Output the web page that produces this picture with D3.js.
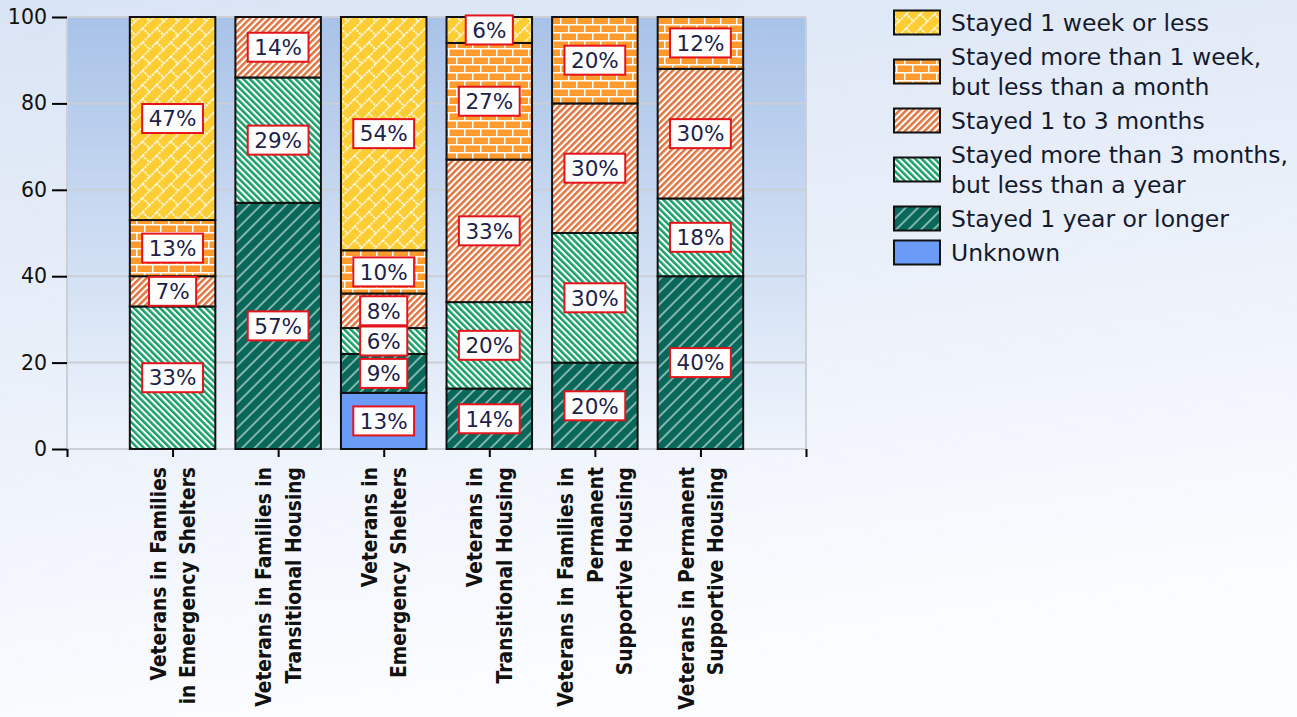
<!DOCTYPE html>
<html>
<head>
<meta charset="utf-8">
<script src="https://cdn.jsdelivr.net/npm/d3@7"></script>
<style>
html, body { margin: 0; padding: 0; overflow: hidden; }
svg { display: block; }
</style>
</head>
<body>
<svg id="chart" width="1297" height="717"></svg>
<script>
// categories (one bar each), split in lines as on the axis
var categories = [
    ["Veterans in Families", "in Emergency Shelters"],
    ["Veterans in Families in", "Transitional Housing"],
    ["Veterans in", "Emergency Shelters"],
    ["Veterans in", "Transitional Housing"],
    ["Veterans in Families in", "Permanent", "Supportive Housing"],
    ["Veterans in Permanent", "Supportive Housing"]
];

// percentages per length of stay, stacked bottom -> top
var unknown       = [0, 0, 13, 0, 0, 0];
var oneYear       = [0, 57, 9, 14, 20, 40];
var threeToYear   = [33, 29, 6, 20, 30, 18];
var oneToThree    = [7, 14, 8, 33, 30, 30];
var weekToMonth   = [13, 0, 10, 27, 20, 12];
var weekOrLess    = [47, 0, 54, 6, 0, 0];

var seriesKeys = ["unknown", "oneYear", "threeToYear", "oneToThree", "weekToMonth", "weekOrLess"];
var seriesValues = [unknown, oneYear, threeToYear, oneToThree, weekToMonth, weekOrLess];

// legend, top -> bottom
var legendKeys = ["weekOrLess", "weekToMonth", "oneToThree", "threeToYear", "oneYear", "unknown"];
var legendLabels = [
    ["Stayed 1 week or less"],
    ["Stayed more than 1 week,", "but less than a month"],
    ["Stayed 1 to 3 months"],
    ["Stayed more than 3 months,", "but less than a year"],
    ["Stayed 1 year or longer"],
    ["Unknown"]
];

var yTicks = [0, 20, 40, 60, 80, 100];

var svg = d3.select("#chart");
var defs = svg.append("defs");

// backgrounds
var bgGrad = defs.append("linearGradient").attr("id", "pageBg")
    .attr("x1", 0).attr("y1", 0).attr("x2", 0.25).attr("y2", 1);
bgGrad.append("stop").attr("offset", 0).attr("stop-color", "#d9e4f4");
bgGrad.append("stop").attr("offset", 1).attr("stop-color", "#fbfcff");

var plotGrad = defs.append("linearGradient").attr("id", "plotBg")
    .attr("x1", 0).attr("y1", 0).attr("x2", 0).attr("y2", 1);
plotGrad.append("stop").attr("offset", 0).attr("stop-color", "#a8c2e8");
plotGrad.append("stop").attr("offset", 1).attr("stop-color", "#f0f5fc");

// hatch patterns
function pattern(id, w, h, rot) {
    var p = defs.append("pattern").attr("id", id)
        .attr("patternUnits", "userSpaceOnUse")
        .attr("width", w).attr("height", h);
    if (rot) p.attr("patternTransform", "rotate(" + rot + ")");
    return p;
}

var pw = pattern("p-weekOrLess", 20, 20, -45);
pw.append("rect").attr("width", 20).attr("height", 20).attr("fill", "#fdcd33");
pw.append("path").attr("d", "M0,0.75H20M0,10.75H20M0.75,0V10M10.75,10V20")
    .attr("stroke", "#fff").attr("stroke-width", 1.5).attr("stroke-dasharray", "2.5 1")
    .attr("fill", "none");

var pm = pattern("p-weekToMonth", 16, 16, 0);
pm.append("rect").attr("width", 16).attr("height", 16).attr("fill", "#ff9a2e");
pm.append("path").attr("d", "M0,0.75H16M0,8.75H16M0.75,0V8M8.75,8V16")
    .attr("stroke", "#fff").attr("stroke-width", 1.5).attr("fill", "none");

var p13 = pattern("p-oneToThree", 4.6, 4.6, 45);
p13.append("rect").attr("width", 4.6).attr("height", 4.6).attr("fill", "#fff");
p13.append("rect").attr("width", 2.5).attr("height", 4.6).attr("fill", "#e0743f");

var p3y = pattern("p-threeToYear", 4.6, 4.6, -45);
p3y.append("rect").attr("width", 4.6).attr("height", 4.6).attr("fill", "#fff");
p3y.append("rect").attr("width", 2.5).attr("height", 4.6).attr("fill", "#16a067");

var p1y = pattern("p-oneYear", 8.8, 8.8, 45);
p1y.append("rect").attr("width", 8.8).attr("height", 8.8).attr("fill", "#0a685b");
p1y.append("line").attr("x1", 4).attr("x2", 4).attr("y1", 0).attr("y2", 8.8)
    .attr("stroke", "#cde8e2").attr("stroke-width", 1.2);

function fillFor(key) {
    return key === "unknown" ? "#6a9cf7" : "url(#p-" + key + ")";
}

svg.append("rect").attr("width", 1297).attr("height", 717).attr("fill", "url(#pageBg)");

// scales: bars sit at 1..6 on a 0..7 axis
var x = d3.scaleLinear().domain([0, 7]).range([67, 806]);
var y = d3.scaleLinear().domain([0, 100]).range([449, 17]);
var barW = (x(1) - x(0)) * 0.81;

svg.append("rect")
    .attr("x", x(0)).attr("y", y(100))
    .attr("width", x(7) - x(0)).attr("height", y(0) - y(100))
    .attr("fill", "url(#plotBg)");

// grid
svg.append("g").selectAll("line").data(yTicks).join("line")
    .attr("x1", x(0)).attr("x2", x(7))
    .attr("y1", function(d) { return y(d); }).attr("y2", function(d) { return y(d); })
    .attr("stroke", "#cbcfd6").attr("stroke-width", 2);
svg.append("line").attr("x1", x(0)).attr("x2", x(0)).attr("y1", y(100)).attr("y2", y(0))
    .attr("stroke", "#cbcfd6").attr("stroke-width", 2);
svg.append("line").attr("x1", x(7)).attr("x2", x(7)).attr("y1", y(100)).attr("y2", y(0))
    .attr("stroke", "#cbcfd6").attr("stroke-width", 2);

// stacked data
var rows = categories.map(function(c, i) {
    var r = { idx: i };
    seriesKeys.forEach(function(k, s) { r[k] = seriesValues[s][i]; });
    return r;
});
var stacked = d3.stack().keys(seriesKeys)(rows);

var bars = svg.append("g");
stacked.forEach(function(layer) {
    bars.selectAll(null).data(layer.filter(function(d) { return d[1] - d[0] > 0; }))
        .join("rect")
        .attr("x", function(d) { return x(d.data.idx + 1) - barW / 2; })
        .attr("y", function(d) { return y(d[1]); })
        .attr("width", barW)
        .attr("height", function(d) { return y(d[0]) - y(d[1]); })
        .attr("fill", fillFor(layer.key))
        .attr("stroke", "#111").attr("stroke-width", 2);
});

// value labels
var labels = svg.append("g");
stacked.forEach(function(layer) {
    layer.forEach(function(d) {
        var v = d[1] - d[0];
        if (v <= 0) return;
        var g = labels.append("g")
            .attr("transform", "translate(" + x(d.data.idx + 1) + "," + y((d[0] + d[1]) / 2) + ")");
        var box = g.append("rect");
        var t = g.append("text")
            .attr("text-anchor", "middle").attr("dy", "0.36em")
            .attr("font-family", "DejaVu Sans, Verdana, sans-serif")
            .attr("font-size", 21.5).attr("fill", "#1d2248")
            .text(v + "%");
        var bb = t.node().getBBox();
        var w = bb.width + 13, h = 29;
        box.attr("x", -w / 2).attr("y", -h / 2).attr("width", w).attr("height", h)
            .attr("fill", "#fff").attr("stroke", "#e3141b").attr("stroke-width", 2);
    });
});

// axes
var yAxis = svg.append("g").attr("transform", "translate(" + x(0) + ",0)")
    .call(d3.axisLeft(y).tickValues(yTicks).tickSize(15).tickPadding(5));
yAxis.select(".domain").remove();
yAxis.selectAll(".tick line").attr("stroke", "#000").attr("stroke-width", 2);
yAxis.selectAll(".tick text")
    .attr("font-family", "DejaVu Sans, Verdana, sans-serif")
    .attr("font-size", 20.5).attr("fill", "#111");

var xAxis = svg.append("g").attr("transform", "translate(0," + y(0) + ")")
    .call(d3.axisBottom(x).tickValues(d3.range(0, 8)).tickSize(8).tickFormat(""));
xAxis.select(".domain").remove();
xAxis.selectAll(".tick line").attr("stroke", "#000").attr("stroke-width", 2);

// category labels, rotated
var lineGap = 29.5;
var catG = svg.append("g");
categories.forEach(function(lines, i) {
    var cx = x(i + 1);
    lines.forEach(function(line, j) {
        var off = (j - (lines.length - 1) / 2) * lineGap;
        catG.append("text")
            .attr("transform", "translate(" + (cx + off) + ",467) rotate(-90) scale(0.85,1)")
            .attr("text-anchor", "end").attr("dy", "0.36em")
            .attr("font-family", "DejaVu Sans, Verdana, sans-serif")
            .attr("font-weight", "bold").attr("font-size", 22).attr("fill", "#111")
            .text(line);
    });
});

// legend
var legend = svg.append("g");
var ly = 5.5;
legendKeys.forEach(function(key, i) {
    var lines = legendLabels[i];
    var hgt = 4 + 30 * lines.length;
    var cy = ly + hgt / 2;
    legend.append("rect")
        .attr("x", 894).attr("y", cy - 12).attr("width", 46).attr("height", 24)
        .attr("fill", fillFor(key)).attr("stroke", "#111").attr("stroke-width", 2);
    lines.forEach(function(line, j) {
        var off = (j - (lines.length - 1) / 2) * 30;
        legend.append("text")
            .attr("x", 951).attr("y", cy + off).attr("dy", "0.36em")
            .attr("font-family", "DejaVu Sans, Verdana, sans-serif")
            .attr("font-size", 23.5).attr("fill", "#141a2c")
            .text(line);
    });
    ly += hgt;
});
</script>
</body>
</html>
